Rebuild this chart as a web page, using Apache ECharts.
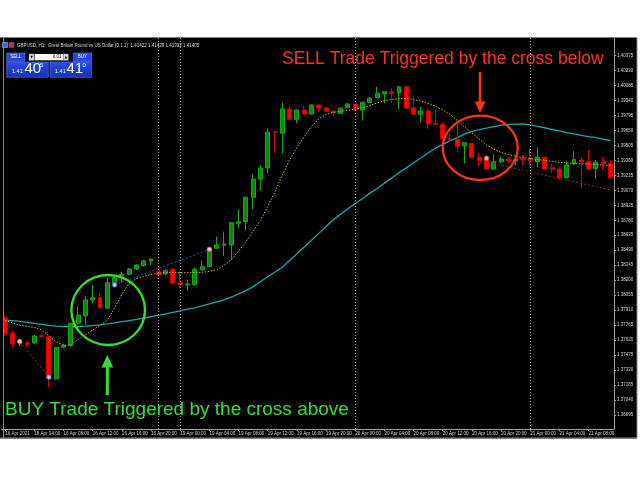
<!DOCTYPE html>
<html><head><meta charset="utf-8">
<script src="https://cdn.jsdelivr.net/npm/echarts@6/dist/echarts.min.js"></script>
<style>html,body{margin:0;padding:0;background:#fff}#c{width:640px;height:480px}</style>
</head><body><div id="c"></div>
<script>
// ---- data ----
const days = ['16 Apr','19 Apr','20 Apr','21 Apr'];
const barsPerDay = [24,24,24,12];
const opens = [1.37834,1.37688,1.37601,1.37591,1.37591,1.37664,1.37650,1.37243,1.37550,1.37569,
1.37782,1.37853,1.38008,1.38030,1.37928,1.38170,1.38241,1.38257,1.38308,1.38340,
1.38386,1.38282,1.38260,1.38306,1.38176,1.38153,1.38156,1.38299,1.38331,1.38509,
1.38538,1.38541,1.38751,1.38767,1.39003,1.39180,1.39287,1.39639,1.39623,1.39859,
1.39759,1.39849,1.39810,1.39898,1.39869,1.39840,1.39817,1.39875,1.39907,1.39849,
1.39922,1.39968,1.40004,1.40026,1.40017,1.40075,1.39871,1.39807,1.39840,1.39720,
1.39710,1.39571,1.39565,1.39500,1.39526,1.39391,1.39365,1.39277,1.39348,1.39371,
1.39355,1.39381,1.39377,1.39348,1.39391,1.39290,1.39277,1.39193,1.39326,1.39365,
1.39348,1.39284,1.39348,1.39333];
const closes = [1.37679,1.37582,1.37611,1.37577,1.37659,1.37652,1.37262,1.37548,1.37569,1.37782,
1.37860,1.38008,1.38030,1.37931,1.38176,1.38228,1.38257,1.38308,1.38347,1.38386,
1.38405,1.38244,1.38292,1.38170,1.38156,1.38163,1.38306,1.38331,1.38505,1.38541,
1.38551,1.38757,1.38764,1.39003,1.39178,1.39287,1.39633,1.39629,1.39859,1.39759,
1.39849,1.39810,1.39898,1.39871,1.39837,1.39823,1.39866,1.39907,1.39849,1.39924,
1.39965,1.40011,1.40026,1.40011,1.40075,1.39866,1.39807,1.39840,1.39713,1.39710,
1.39568,1.39558,1.39494,1.39532,1.39391,1.39358,1.39277,1.39348,1.39374,1.39355,
1.39371,1.39365,1.39358,1.39391,1.39277,1.39277,1.39193,1.39316,1.39371,1.39348,
1.39277,1.39342,1.39329,1.39193];
const lows = [1.37659,1.37553,1.37562,1.37553,1.37582,1.37637,1.37165,1.37233,1.37540,1.37556,
1.37775,1.37766,1.37979,1.37924,1.37921,1.38144,1.38176,1.38250,1.38299,1.38333,
1.38347,1.38241,1.38250,1.38163,1.38121,1.38095,1.38148,1.38294,1.38328,1.38502,
1.38434,1.38396,1.38703,1.38680,1.38887,1.39064,1.39236,1.39435,1.39430,1.39757,
1.39720,1.39806,1.39806,1.39833,1.39830,1.39794,1.39810,1.39869,1.39844,1.39745,
1.39917,1.39962,1.39914,1.39914,1.39856,1.39864,1.39806,1.39726,1.39665,1.39694,
1.39558,1.39542,1.39445,1.39333,1.39389,1.39300,1.39268,1.39268,1.39333,1.39333,
1.39316,1.39316,1.39300,1.39294,1.39268,1.39236,1.39171,1.39187,1.39316,1.39090,
1.39268,1.39180,1.39268,1.39190];
const highs = [1.37853,1.37708,1.37630,1.37606,1.37669,1.37679,1.37659,1.37553,1.37582,1.37788,
1.37943,1.38047,1.38153,1.38073,1.38218,1.38241,1.38282,1.38318,1.38357,1.38396,
1.38410,1.38331,1.38308,1.38318,1.38282,1.38202,1.38325,1.38389,1.38512,1.38621,
1.38670,1.38764,1.38887,1.39009,1.39226,1.39316,1.39672,1.39641,1.39920,1.39888,
1.39856,1.39888,1.39902,1.39902,1.39878,1.39844,1.39873,1.39917,1.39912,1.39927,
1.39975,1.40075,1.40028,1.40059,1.40077,1.40082,1.39994,1.39881,1.39866,1.39856,
1.39736,1.39623,1.39720,1.39534,1.39529,1.39435,1.39397,1.39420,1.39397,1.39391,
1.39391,1.39413,1.39478,1.39488,1.39394,1.39326,1.39300,1.39355,1.39452,1.39391,
1.39462,1.39365,1.39397,1.39365];
const fastMA = [1.37809,1.37785,1.37764,1.37751,1.37742,1.37717,1.37659,1.37601,1.37567,1.37572,
1.37625,1.37669,1.37717,1.37761,1.37809,1.37931,1.38061,1.38168,1.38216,1.38236,
1.38255,1.38265,1.38275,1.38276,1.38273,1.38272,1.38274,1.38275,1.38286,1.38302,
1.38342,1.38396,1.38481,1.38570,1.38677,1.38778,1.38914,1.39059,1.39219,1.39365,
1.39486,1.39590,1.39689,1.39762,1.39806,1.39825,1.39837,1.39846,1.39857,1.39869,
1.39893,1.39917,1.39941,1.39951,1.39959,1.39960,1.39951,1.39936,1.39912,1.39886,
1.39849,1.39806,1.39747,1.39684,1.39626,1.39568,1.39510,1.39471,1.39437,1.39418,
1.39401,1.39388,1.39379,1.39370,1.39360,1.39350,1.39342,1.39336,1.39331,1.39328,
1.39325,1.39321,1.39316,1.39313];
const slowMA = [1.37812,1.37807,1.37800,1.37790,1.37780,1.37771,1.37761,1.37754,1.37749,1.37748,
1.37750,1.37754,1.37760,1.37766,1.37775,1.37785,1.37797,1.37808,1.37819,1.37834,
1.37845,1.37860,1.37872,1.37887,1.37901,1.37918,1.37931,1.37950,1.37969,1.37989,
1.38008,1.38036,1.38067,1.38098,1.38137,1.38184,1.38232,1.38279,1.38325,1.38390,
1.38456,1.38522,1.38587,1.38653,1.38719,1.38786,1.38838,1.38891,1.38943,1.38992,
1.39041,1.39089,1.39140,1.39189,1.39241,1.39288,1.39337,1.39384,1.39432,1.39480,
1.39516,1.39549,1.39582,1.39615,1.39643,1.39658,1.39674,1.39689,1.39702,1.39709,
1.39713,1.39714,1.39704,1.39691,1.39677,1.39660,1.39646,1.39629,1.39617,1.39604,
1.39592,1.39581,1.39566,1.39551];
const yTicks = [1.36895,1.37040,1.37185,1.37330,1.37475,1.37620,1.37765,1.37910,1.38055,1.38200,
1.38345,1.38490,1.38635,1.38780,1.38925,1.39070,1.39215,1.39360,1.39505,1.39650,
1.39795,1.39940,1.40085,1.40230,1.40375];
const separators = [21,24,48,72];
const sellTrade1 = [[2,1.37604],[6,1.37259]];
const buyTrade = [[15,1.38153],[28,1.38499]];
const sellTrade2 = [[66,1.39345],[83,1.39074]];
const sellMarks = [[2,1.37604],[28,1.38499],[66,1.39381]];
const buyMarks = [[6,1.37259],[15,1.38153]];

// ---- categories ----
const cats = [];
days.forEach((d,k)=>{for(let h=0;h<barsPerDay[k];h++){cats.push(d+' '+String(h).padStart(2,'0')+':00');}});

const chart = echarts.init(document.getElementById('c'));
const FF = '"Liberation Sans", Arial, sans-serif';
const GREEN = '#30e030', RED = '#ff3214';
chart.setOption({
  animation:false,
  backgroundColor:'#ffffff',
  textStyle:{fontFamily:FF},
  grid:{left:1.55, right:25.9, top:38, bottom:51},
  xAxis:{type:'category', data:cats, boundaryGap:true,
    axisLine:{lineStyle:{color:'#a0a0a0',width:1}},
    axisTick:{show:true, interval:3, alignWithLabel:true, length:2, lineStyle:{color:'#a0a0a0'}},
    axisLabel:{interval:3, align:'left', fontSize:4.5, color:'#d0d0d0', margin:2.5,
      formatter:(v,i)=> i===0 ? '16 Apr 2021' : v},
    splitLine:{show:false}},
  yAxis:{type:'value', position:'right', min:1.36757, max:1.40547, scale:true,
    axisLine:{show:true, lineStyle:{color:'#a0a0a0',width:1}},
    axisTick:{show:true, length:2, customValues:yTicks, lineStyle:{color:'#a0a0a0'}},
    axisLabel:{customValues:yTicks, fontSize:4.5, color:'#d0d0d0', margin:3,
      formatter:v=>v.toFixed(5)},
    splitLine:{show:false}},
  series:[
    {type:'candlestick', data:opens.map((o,i)=>[o,closes[i],lows[i],highs[i]]), barWidth:4.4, z:4,
      itemStyle:{color:'#0a8a0a', color0:'#ff0000', borderColor:'#16a816', borderColor0:'#d80000', borderWidth:1},
      markLine:{silent:true, symbol:['none','none'], label:{show:false}, animation:false,
        lineStyle:{color:'#a8a8a8', type:[1,2], width:1},
        data:separators.map(i=>({xAxis:cats[i]}))}},
    {type:'line', data:slowMA, symbol:'none', z:3, lineStyle:{color:'#18a8ae', width:1.3}},
    {type:'line', data:fastMA, symbol:'none', z:5, lineStyle:{color:'#c8b400', width:1, type:[1.5,1.5]}},
    {type:'line', data:sellTrade1, symbol:'none', z:5, lineStyle:{color:'#a02818', width:1, type:[2,2]}},
    {type:'line', data:buyTrade, symbol:'none', z:5, lineStyle:{color:'#2050b8', width:1, type:[2,2]}},
    {type:'line', data:sellTrade2, symbol:'none', z:5, lineStyle:{color:'#a02818', width:1, type:[2,2]}},
    {type:'scatter', data:sellMarks, symbol:'circle', symbolSize:4.5, z:6,
      itemStyle:{color:'#ffe0e0', borderColor:'#ff5050', borderWidth:1}},
    {type:'scatter', data:buyMarks, symbol:'circle', symbolSize:4.5, z:6,
      itemStyle:{color:'#e0e8ff', borderColor:'#4070ff', borderWidth:1}}
  ],
  graphic:[
    {type:'rect', silent:true, z:-100, shape:{x:0,y:37.5,width:637,height:401}, style:{fill:'#000'}},
    {type:'line', silent:true, z:60, shape:{x1:3.5,y1:38,x2:3.5,y2:438}, style:{stroke:'#8a8a8a',lineWidth:1}},
    {type:'line', silent:true, z:60, shape:{x1:0,y1:438,x2:637,y2:438}, style:{stroke:'#8a8a8a',lineWidth:1}},
    {type:'line', silent:true, z:60, shape:{x1:637,y1:38,x2:637,y2:438}, style:{stroke:'#8a8a8a',lineWidth:1}},
    // title bar
    {type:'rect', silent:true, z:60, shape:{x:2.5,y:42.5,width:5,height:5}, style:{fill:'#4a6ad8',stroke:'#c8c8c8',lineWidth:0.5}},
    {type:'rect', silent:true, z:60, shape:{x:9,y:42.5,width:5,height:5}, style:{fill:'#d83030',stroke:'#3050c0',lineWidth:0.8}},
    {type:'text', silent:true, z:60, x:17, y:45.5, style:{text:'GBPUSD, H1:  Great Britain Pound vs US Dollar (0.1.1)  1.41422 1.41429 1.41392 1.41405', fontSize:4.5, fill:'#d8d8d8', fontFamily:FF, verticalAlign:'middle'}},
    // one-click panel
    {type:'rect', silent:true, z:60, shape:{x:6.7,y:53,width:18.3,height:8.3}, style:{fill:'#2846d4',stroke:'#7090f0',lineWidth:0.5}},
    {type:'text', silent:true, z:61, x:15.8, y:57.2, style:{text:'SELL', fontSize:4.5, fill:'#fff', fontFamily:FF, align:'center', verticalAlign:'middle'}},
    {type:'rect', silent:true, z:60, shape:{x:29,y:54,width:5.3,height:6.3}, style:{fill:'#e4e4e4',stroke:'#909090',lineWidth:0.5}},
    {type:'text', silent:true, z:61, x:31.6, y:57.2, style:{text:'▼', fontSize:3.5, fill:'#000', fontFamily:'DejaVu Sans', align:'center', verticalAlign:'middle'}},
    {type:'rect', silent:true, z:60, shape:{x:35,y:54,width:28.3,height:6.3}, style:{fill:'#ffffff'}},
    {type:'text', silent:true, z:61, x:61.5, y:57.2, style:{text:'0.01', fontSize:4.5, fill:'#000', fontFamily:FF, align:'right', verticalAlign:'middle'}},
    {type:'rect', silent:true, z:60, shape:{x:63.3,y:54,width:5,height:6.3}, style:{fill:'#e4e4e4',stroke:'#909090',lineWidth:0.5}},
    {type:'text', silent:true, z:61, x:65.8, y:57.2, style:{text:'▲', fontSize:3.5, fill:'#000', fontFamily:'DejaVu Sans', align:'center', verticalAlign:'middle'}},
    {type:'rect', silent:true, z:60, shape:{x:73.3,y:53,width:18.4,height:8.3}, style:{fill:'#2846d4',stroke:'#7090f0',lineWidth:0.5}},
    {type:'text', silent:true, z:61, x:82.5, y:57.2, style:{text:'BUY', fontSize:4.5, fill:'#fff', fontFamily:FF, align:'center', verticalAlign:'middle'}},
    {type:'rect', silent:true, z:60, shape:{x:6.7,y:62,width:41.6,height:15.3}, style:{fill:new echarts.graphic.LinearGradient(0,0,0,1,[{offset:0,color:'#2a4ee8'},{offset:1,color:'#1530b8'}]),stroke:'#6a88f0',lineWidth:0.5}},
    {type:'rect', silent:true, z:60, shape:{x:50,y:62,width:41.7,height:15.3}, style:{fill:new echarts.graphic.LinearGradient(0,0,0,1,[{offset:0,color:'#2a4ee8'},{offset:1,color:'#1530b8'}]),stroke:'#6a88f0',lineWidth:0.5}},
    {type:'text', silent:true, z:61, x:12, y:74, style:{text:'1.41', fontSize:5.5, fill:'#fff', fontFamily:FF, verticalAlign:'bottom'}},
    {type:'text', silent:true, z:61, x:24.5, y:76.5, style:{text:'40', fontSize:15, fill:'#fff', fontFamily:FF, verticalAlign:'bottom'}},
    {type:'text', silent:true, z:61, x:40, y:62.5, style:{text:'5', fontSize:6, fill:'#fff', fontFamily:FF, verticalAlign:'top'}},
    {type:'text', silent:true, z:61, x:55, y:74, style:{text:'1.41', fontSize:5.5, fill:'#fff', fontFamily:FF, verticalAlign:'bottom'}},
    {type:'text', silent:true, z:61, x:66.5, y:76.5, style:{text:'41', fontSize:15, fill:'#fff', fontFamily:FF, verticalAlign:'bottom'}},
    {type:'text', silent:true, z:61, x:82.5, y:62.5, style:{text:'0', fontSize:6, fill:'#fff', fontFamily:FF, verticalAlign:'top'}},
    // annotations
    {type:'ellipse', silent:true, z:70, shape:{cx:108.2,cy:310,rx:36.8,ry:35}, style:{fill:'none',stroke:GREEN,lineWidth:2.4}},
    {type:'polygon', silent:true, z:70, shape:{points:[[107.3,355],[101.5,367.5],[105.8,367.5],[105.8,395],[108.8,395],[108.8,367.5],[113.2,367.5]]}, style:{fill:GREEN}},
    {type:'text', silent:true, z:70, x:5, y:410, style:{text:'BUY Trade Triggered by the cross above', fontSize:19, fill:GREEN, fontFamily:FF, verticalAlign:'middle'}},
    {type:'ellipse', silent:true, z:70, shape:{cx:480.2,cy:147.8,rx:37.5,ry:32.2}, style:{fill:'none',stroke:RED,lineWidth:2.3}},
    {type:'polygon', silent:true, z:70, shape:{points:[[480,113],[474.8,101.5],[478.8,101.5],[478.8,72],[481.3,72],[481.3,101.5],[485.6,101.5]]}, style:{fill:RED}},
    {type:'text', silent:true, z:70, x:282, y:59, style:{text:'SELL Trade Triggered by the cross below', fontSize:17.5, fill:RED, fontFamily:FF, verticalAlign:'middle'}}
  ]
});
</script></body></html>
